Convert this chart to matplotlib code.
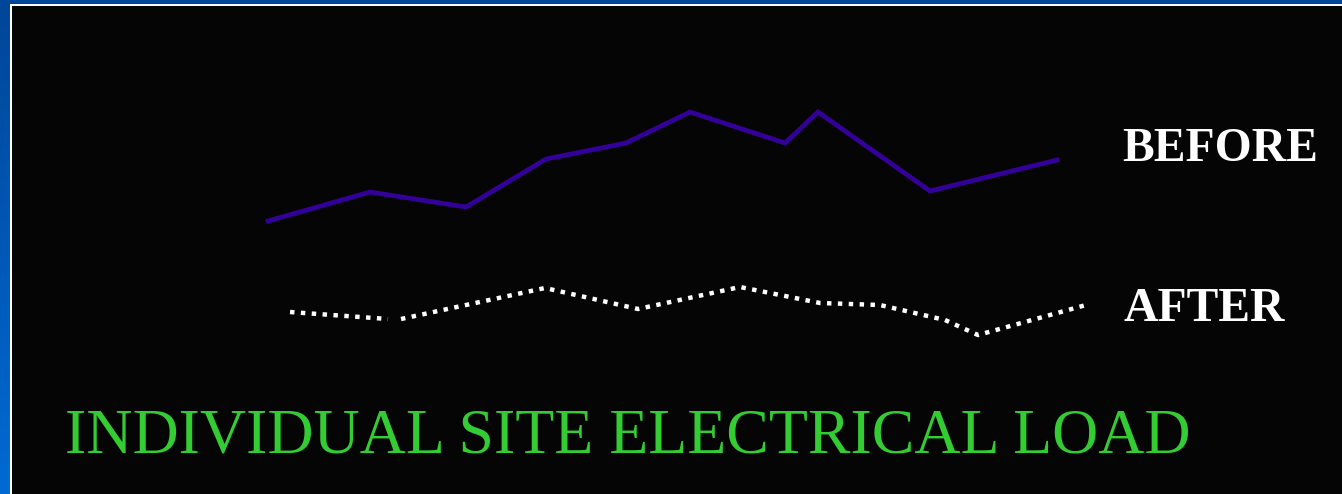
import numpy as np
import matplotlib.pyplot as plt
from matplotlib.patches import Rectangle

W, H = 1342, 494

# load curves (arbitrary units)
before_x = [268, 370, 466, 546, 626, 690, 785, 818, 930, 1057]
before_load = [273, 302, 287, 335, 351, 382, 351, 382, 303, 334]

after1_x = [290, 388]
after1_load = [182, 175]
after2_x = [401, 545, 638, 740, 820, 880, 945, 978, 1086]
after2_load = [175, 206, 185, 207, 191, 189, 174, 159, 189]

title = "INDIVIDUAL SITE ELECTRICAL LOAD"

fig = plt.figure(figsize=(W / 100, H / 100), dpi=100)
ax = fig.add_axes([0, 0, 1, 1])

# blue frame with gradient, thin white rule, black panel
grad = np.linspace(0, 1, 256).reshape(-1, 1)
top = np.array([0x00, 0x46, 0x98]) / 255
bot = np.array([0x00, 0x6a, 0xd4]) / 255
img = top + (bot - top) * grad[:, :, None]
ax.imshow(img, extent=[0, W, 0, H], aspect='auto', zorder=0, origin='upper')
ax.add_patch(Rectangle((10, 0), W - 10, H - 4, facecolor='white', edgecolor='none', zorder=1))
ax.add_patch(Rectangle((12, 0), W - 12, H - 6, facecolor='#050505', edgecolor='none', zorder=2))

ax.plot(before_x, before_load, color='#330099', lw=3.4, solid_joinstyle='miter', zorder=3)
for xs, ys in [(after1_x, after1_load), (after2_x, after2_load)]:
    ax.plot(xs, ys, color='white', lw=3.2, linestyle=(0, (1.0, 1.45)),
            dash_capstyle='butt', zorder=3)

ax.set_xlim(0, W)
ax.set_ylim(0, H)
ax.axis('off')

serif = ['Liberation Serif', 'DejaVu Serif']
ax.text(1122, 494 - 149, "BEFORE", color='white', fontsize=34.3, fontweight='bold',
        family=serif, va='center', ha='left', zorder=4)
ax.text(1124, 494 - 309, "AFTER", color='white', fontsize=34.3, fontweight='bold',
        family=serif, va='center', ha='left', zorder=4)
ax.text(65, 494 - 452, title, color='#33cc33', fontsize=46.0,
        family=serif, va='baseline', ha='left', zorder=4)

fig.savefig('out.png', dpi=100, facecolor='#004a99')
